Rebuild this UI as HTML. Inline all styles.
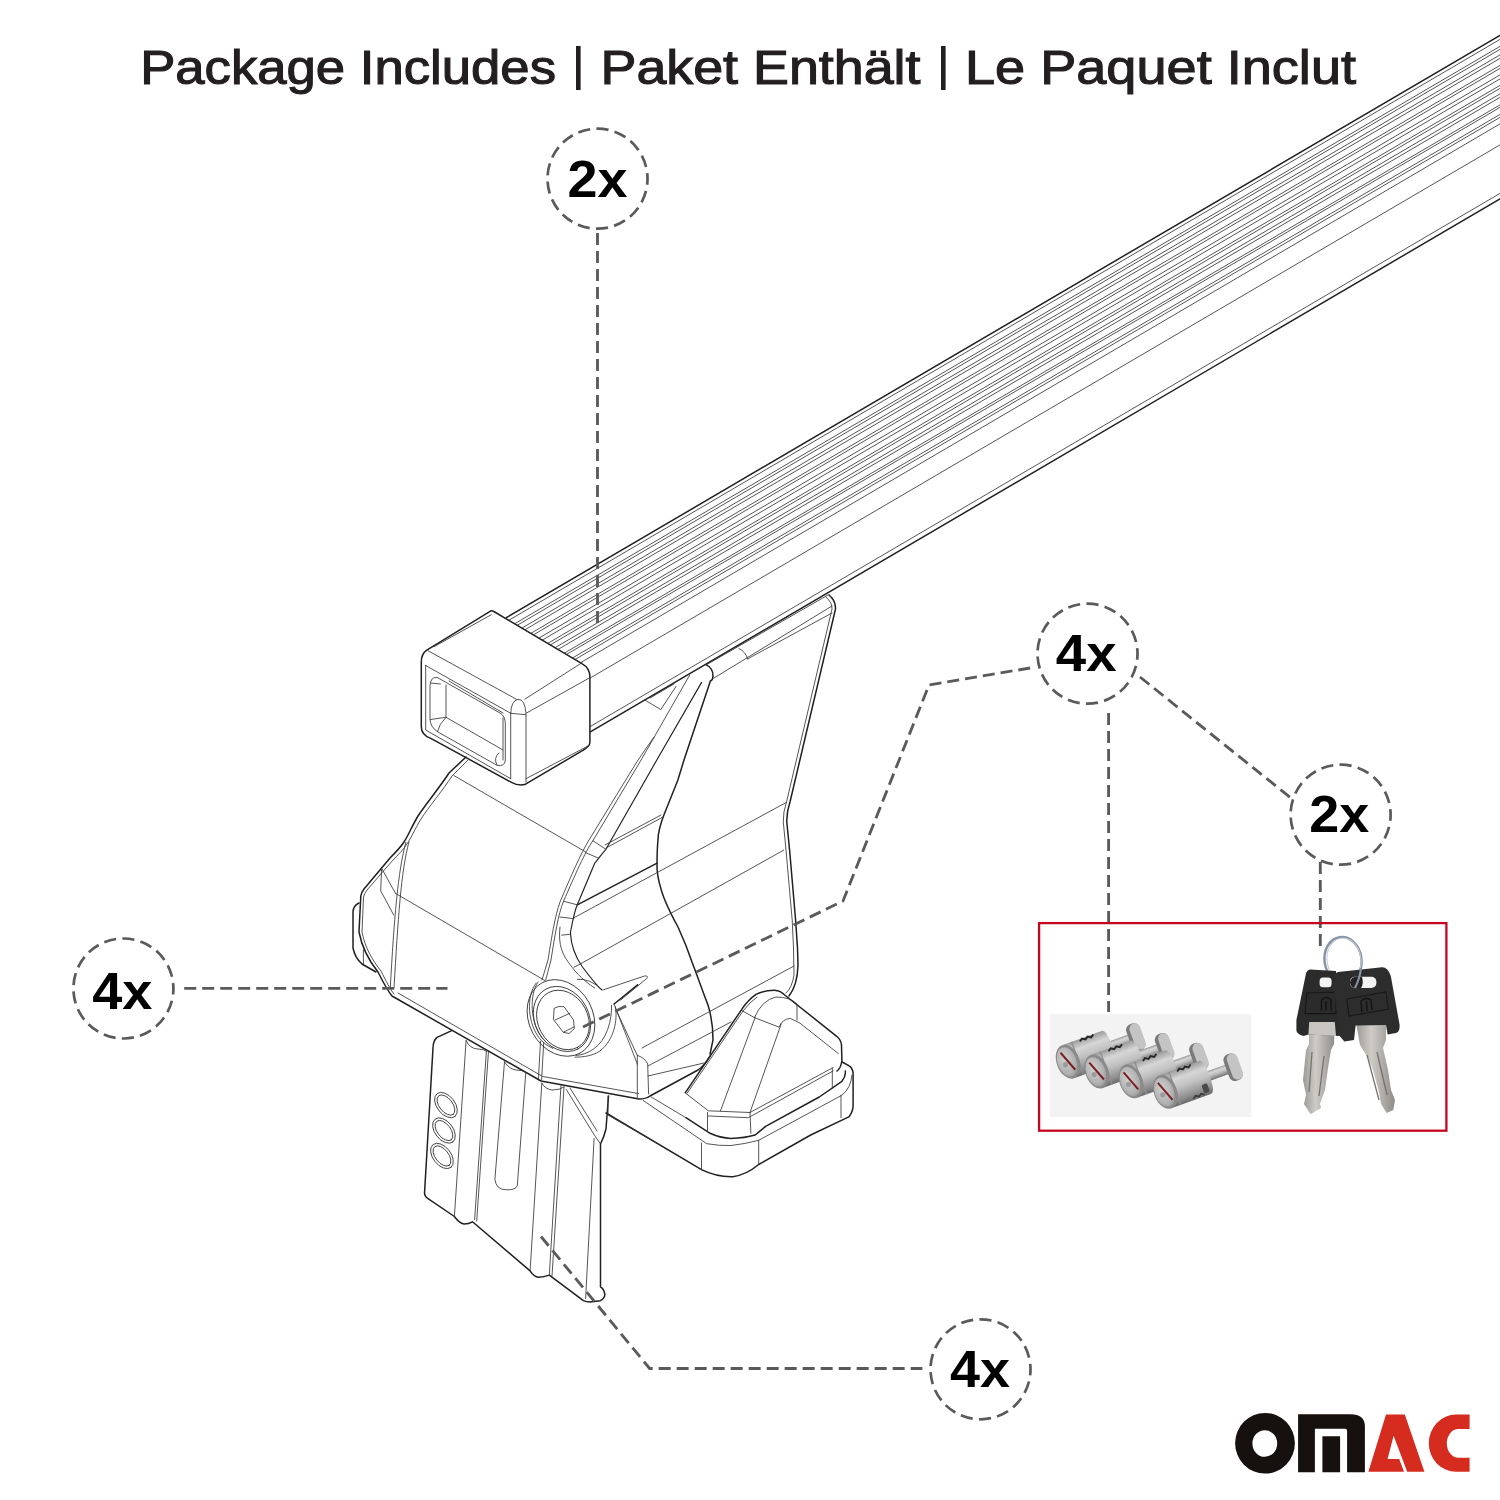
<!DOCTYPE html>
<html><head><meta charset="utf-8">
<style>
html,body{margin:0;padding:0;background:#fff;}
body{width:1500px;height:1500px;overflow:hidden;}
svg{display:block;}
.t{font-family:"Liberation Sans",sans-serif;fill:#231f20;stroke:#231f20;stroke-width:1.1;}
.b{font-family:"Liberation Sans",sans-serif;font-weight:bold;fill:#000;}
.dash{fill:none;stroke:#5a5a5a;stroke-width:2.85;stroke-dasharray:12 6;}
.circ{fill:none;stroke:#5a5a5a;stroke-width:2.7;stroke-dasharray:12.2 6.28;stroke-dashoffset:6.1;}
.k{fill:none;stroke:#202020;stroke-width:1.5;stroke-linejoin:round;stroke-linecap:round;}
.n{fill:none;stroke:#363636;stroke-width:0.85;stroke-linejoin:round;stroke-linecap:round;}
</style></head>
<body>
<svg width="1500" height="1500" viewBox="0 0 1500 1500">
<rect width="1500" height="1500" fill="#fff"/>
<!-- title -->
<g class="t" font-size="47.5">
<text x="140.2" y="84" textLength="415.8" lengthAdjust="spacingAndGlyphs">Package Includes</text>
<text x="600.5" y="84" textLength="320" lengthAdjust="spacingAndGlyphs">Paket Enthält</text>
<text x="965" y="84" textLength="391" lengthAdjust="spacingAndGlyphs">Le Paquet Inclut</text>
</g>
<rect x="576" y="46" width="4.6" height="44" fill="#231f20"/>
<rect x="941" y="46" width="4.6" height="44" fill="#231f20"/>

<!-- BAR -->
<g id="bar">
<path class="k" d="M506.3 617.7L1500 35.4 M589.9 732.2L1500 198.9"/>
<path class="n" d="M507.9 620.8L1500 39.4 M513.9 624.2L1500 46.4 M516.5 625.7L1500 49.4 M521.2 628.5L1500 54.9 M524.2 630.2L1500 58.4 M530.2 633.7L1500 65.4 M532.8 635.2L1500 68.4 M538.4 638.4L1500 74.9 M541.8 640.4L1500 78.9 M547.4 643.6L1500 85.4 M550.0 645.1L1500 88.4 M554.7 647.9L1500 93.9 M557.7 649.6L1500 97.4 M564.1 653.3L1500 104.9 M566.2 654.6L1500 107.4 M572.3 658.1L1500 114.4 M574.8 659.6L1500 117.4 M580.4 662.8L1500 123.9 M589.9 678.2L1500 144.9 M589.9 726.7L1500 193.4"/>
</g>

<!-- END CAP -->
<g id="cap">
<path class="k" fill="#fff" style="fill:#fff" d="M490.9 610.8 L426.4 650.4 Q421.3 654 421.3 662.1 L421.3 726.7 Q421.3 735 430.8 738.4 L511.5 782.4 Q518 786 524.7 784.6 L583.3 750.1 Q589.9 746 589.9 742.8 L589.9 676.8 Q589.9 668 581.9 663.6 L493.9 611.5 Q492 610.5 490.9 610.8Z"/>
</g>


<!-- FOOT -->
<g id="foot">
<!-- cap details -->
<path class="n" d="M428 650.7 L516.5 699.3 M425.3 665.3 L510.7 713.3 M510.7 713.3 Q511 701 518 699.3 Q525 699 526 713.3 M510.7 713.3 L526 714.7 M526 713.3 L589.3 678 M524.7 699.3 L582 662.7
M434 646.7 L491.3 614.7
M510.7 713.3 L510.7 778.7 M526 714.7 L526 782 M526 778.7 L589.3 745.3 M425.7 665.3 L425.7 730 L510.7 778.7"/>
<path class="n" d="M430 686 Q430 677 437 677.3 L500 713 Q505.3 716 505.3 724 L505.3 760 Q505 767 497 765.3 L438 732 Q430 727 430 719Z
M446 685 L446 717.3 L503 750 M446 717.3 Q439 724 437.5 731.5 M430.5 683 L440.5 684 M430.5 719.5 L446 717.3 M497 765 Q493 758 499 753
M449 681 L503 713 M503 718 L503 760"/>
<!-- body thick outlines -->
<path class="k" d="M466 757 L449 773 C440 787 425 805 418 816 C412 826 408 836 404 842 C400 848 395 853 390 858 L364 889 Q361 893 360.8 896 L359 932 C362 948 370 962 378 972 C383 982 387 990 392 996 L541 1081 L639 1099 Q646 1099 650 1096 L698 1070 Q705 1065 710 1056"/>
<path class="n" d="M468 760 L452 776 C443 790 428 808 421 819 C415 829 411 838 407 844 C403 850 398 855 393 860 L367 890 Q364 894 363.5 897 L362 932 C365 948 373 961 381 971 C386 981 390 989 394 994"/>
<path class="k" d="M359 903 Q353 906 353 912 L353 948 Q355 958 362 964 L376 972"/>
<path class="k" d="M706.4 664.8 Q713 668 713 676 Q713 680 710.4 681 L684 760 L677.9 780 C672 795 668 805 664 814.7 C660 825 658 832 657.9 840.7 C657 850 657 862 657.1 870 C658 880 661 890 664 898 C668 908 673 918 678 927 C684 940 688 950 692 962 C697 975 704 995 708 1005 C712 1018 713 1030 713 1040 L710 1054"/>
<path class="k" d="M829 595 Q836 601 835.5 609 L790 802 Q786.5 812 786.8 822 L789.6 850 L795.6 920 L797.5 948 L798 965 Q797.5 985 789 996"/>
<path class="k" style="stroke-width:1.15" d="M701.6 682.4 L656.8 760 L605.9 849.3 C600 856 596 862 594.7 863.2 L577.3 904.8 C574 912 572 925 570.4 932.5 C571 945 574 955 582.5 967 C590 977 596 985 601.6 989.7"/>
<path class="k" d="M577.3 904.8 L657.1 863.2 M637.6 984.8 L614.1 1004"/>
<path class="k" d="M685.2 1092.8 L741.6 1009.6 Q748 1000 756 994.4 Q764 990 776 990.4 Q781 991 784.7 995 L836.7 1036.3 Q841 1040 841.5 1045 L841.9 1060.5 Q841 1068 837 1071"/>
<path class="k" d="M606 1113 L701.5 1169.7 Q716 1177 732.7 1176.7 Q746 1175 758.7 1164.5 L810.7 1135 L848.8 1116.9 Q853 1112 853.1 1105.6 L853.1 1072.7 Q852 1067 848.8 1065.7 L842 1062"/>
<path class="k" d="M685.9 1117.7 L710.1 1133.3 Q720 1138 731 1138.5 Q745 1138 755.2 1135 Q760 1131 765.6 1126.4 L819.3 1097 L841.9 1081.3 Q846 1076 845.3 1071"/>
<path class="k" d="M451.2 1030.9 L437 1037.4 Q433 1041 433 1048 L424.6 1192 Q424 1196 427.7 1198.4 L454.4 1216.5 Q459 1223 464 1224 Q469 1224 472.5 1221.8 L530.1 1270.9 Q534 1277 538.6 1277.3 Q544 1277 549.3 1275.1 L583.4 1300.7 Q586 1302 590 1302 L600.5 1300.7 Q605 1298 604.8 1294.3 Q604 1289 600.5 1286.9 L600.5 1144 Q604 1137 606 1129 L608.5 1096"/>
<!-- body thin -->
<path class="n" d="M453.9 775.6 L585.6 851.9 M395.5 893.4 L544.8 980.5
M405.9 842.3 C398 870 394 920 390.3 987.9 M409 842 C401 870 398 920 394 988
M381.6 868.3 L395.5 893.4 M381.6 868.3 L380.7 890.8 L393.7 915 M363.4 949.7 L363.4 965.3
M689.6 675.2 L641.1 760 L592.9 840.7 C585 852 575 875 563.5 901.3 C558 915 555 935 551 960 L545.7 980.1
M654 737 L638 760 L589 840 C581 853 571 876 560 902 C555 916 552 935 548 960 L542 980
M592.9 840.7 L605.9 849.3 M586 852.8 L598.1 858 M563.5 901.3 L577.3 904.8 M560 917 L573.9 918.7 M561.7 935.1 L570.4 934.3
M560 927 C558 945 562 955 572.1 967.2 C580 978 590 985 594.7 988 M573.9 967.2 L580.8 963.7
M573.9 917.8 L786.2 802.5 M580.8 963.7 L783.6 850.2 M642 1048 L794 966
M606.8 847.6 L662.3 817.3 M605 845 L661 815
M706 665 L828 595 M714 678 L832 606 M747.6 658.9 L832 613 M739 648.5 Q746 652 747.6 658.9
M644.8 700 L660.8 709.6 L676 686.4 M650 698 L674 684
M826 597 Q832.5 603 832 609 L786.5 802 Q783 812 783.3 822 L786 850 L792.2 920 L793.5 948 L794 975 Q792 988 786 993
M577.3 979.3 Q590 978 602.4 990.1 L644.9 975.9 Q649 976 646.7 978.5 L620.7 1000
M540.5 1041.3 L538.4 1080 M543.7 1042.4 L541.6 1080
M398 993 L542.7 1076.5 L638.7 1093.6
M614.1 1004 L637.3 1064 L637.3 1098 M616.3 1010.4 L637.3 1055.3 Q645 1058 647.7 1064 L648.6 1094 M637.3 1055.3 L637.3 1064
M648 1066 L731 1022 M648 1076 L704 1063
M741.6 1010.4 L754.4 1017.6 L779.2 1027.2 Q782 1019 790.4 1018.4 L800 1023.2 L838.4 1053.6
M755.2 1017.2 L720.5 1110.8 M781.2 1024 L750 1112.5
M685.9 1093.5 L708.4 1110.8 L750 1112.5 L833.2 1067.5 M708.4 1116 L748.3 1117.7 L833 1071
M707.5 1112.5 L707.5 1131.6 M750 1112.5 L750.9 1133.3 M832.3 1068.3 L832.3 1088.3
M754.4 1017.6 Q762 1000 776 997 Q790 997 797 1004 L797 1020 M687 1093.5 L743 1011 Q750 1002 757 997
M643.2 1100.5 L706.7 1143.7 Q720 1146 731 1145.5 Q745 1144 758.7 1140.3 L841.9 1095.2 Q851 1088 852 1075
M701.5 1143 L701.5 1169.7 M758.7 1140.3 L758.7 1164.5 M841 1095.2 L841 1117.7
M651.2 1097 L685.9 1117.7 M608 1096 L608 1114 M660 1145 L608 1115
M466.1 1040.5 L454.4 1216.5 M486.4 1051.2 L474.6 1219.7 M488.5 1051.2 L476.7 1221
M504.5 1061.9 L494.9 1179.2 Q496 1190 506.6 1189.8 Q516 1190 517.3 1185.6 L525.8 1072.5
M541.8 1083.2 L530.1 1270.9 M561 1085.3 L549.3 1275.1 M564 1087 L552 1276
M466.1 1040.5 Q470 1049 478 1049 Q484 1049 486.4 1051.2 M504.5 1061.9 Q509 1069 516 1070 Q523 1070 525.8 1072.5 M541.8 1083.2 Q545 1089 552 1090 Q560 1090 564 1087 M594.1 1138.6 L585.6 1298.6 M566.4 1089.6 L594.1 1134.7 L600.5 1144 M570 1088 L597 1131
"/>
<g class="n">
<ellipse cx="446" cy="1105.1" rx="14.5" ry="9" transform="rotate(52 446 1105.1)"/>
<ellipse cx="444" cy="1130.6" rx="14.5" ry="9" transform="rotate(52 444 1130.6)"/>
<ellipse cx="442" cy="1156" rx="14.5" ry="9" transform="rotate(52 442 1156)"/>
<ellipse cx="446" cy="1105.1" rx="11.8" ry="6.6" transform="rotate(52 446 1105.1)"/>
<ellipse cx="444" cy="1130.6" rx="11.8" ry="6.6" transform="rotate(52 444 1130.6)"/>
<ellipse cx="442" cy="1156" rx="11.8" ry="6.6" transform="rotate(52 442 1156)"/>
<ellipse cx="561" cy="1018" rx="40" ry="32" transform="rotate(62 561 1018)"/>
<ellipse cx="562" cy="1019" rx="34" ry="27" transform="rotate(62 562 1019)"/>
<ellipse cx="563" cy="1020" rx="31" ry="25" transform="rotate(62 563 1020)"/>

<path d="M554.5 1008.1 L559 1006.5 L564 1006.7 L573.5 1019.9 L574.3 1028.7 L569 1033.5 L563.3 1032.3 L553.7 1019.9 Z M555.2 1019.9 L569.9 1013.3 M563.3 1032.3 L574 1027 M611.6 1005.2 C612 1020 607 1040 593.3 1049.2 C588 1053 582 1055 576 1055.5 M615.3 1006.7 C618 1020 614 1040 600 1051 C592 1056 584 1057 575 1057.2 M536.1 983.2 C526 995 527 1025 541.3 1040.4 C546 1045 550 1047 553 1048.4 M538 982 C529 995 530 1024 543 1039"/>
</g>
</g>

<!-- circles -->
<g>
<circle class="circ" cx="597.5" cy="178.7" r="50"/>
<circle class="circ" cx="1087.5" cy="653.7" r="50"/>
<circle class="circ" cx="1340.6" cy="814.7" r="50"/>
<circle class="circ" cx="123.4" cy="988.5" r="50"/>
<circle class="circ" cx="980.5" cy="1369.3" r="50"/>
</g>
<g class="b" font-size="51.5">
<text x="567.5" y="196.9" textLength="60" lengthAdjust="spacingAndGlyphs">2x</text>
<text x="1055.8" y="671.1" textLength="60.8" lengthAdjust="spacingAndGlyphs">4x</text>
<text x="1309.2" y="832.4" textLength="60" lengthAdjust="spacingAndGlyphs">2x</text>
<text x="92.2" y="1009" textLength="60.2" lengthAdjust="spacingAndGlyphs">4x</text>
<text x="950.1" y="1387" textLength="60" lengthAdjust="spacingAndGlyphs">4x</text>
</g>
<!-- leaders -->
<path class="dash" d="M597.5 233 L597.5 623"/>
<path class="dash" d="M583 1027 L843 901 L929 685 L1036 667"/>
<path class="dash" d="M1108.6 713 L1108.6 1012"/>
<path class="dash" d="M1140 677 L1291 798"/>
<path class="dash" d="M1320.3 862 L1320.3 952"/>
<path class="dash" d="M184.2 988.3 L447.5 988.3"/>
<path class="dash" d="M541 1236.5 L649.6 1368.5 L922.4 1368.5"/>

<!-- red box -->
<rect x="1039.1" y="923.1" width="407.3" height="207.6" fill="none" stroke="#c4061f" stroke-width="2.3"/>
<rect x="1049.9" y="1014.1" width="201.6" height="102.9" fill="#f3f3f3"/>
<!-- PHOTOS -->
<defs>
<linearGradient id="cylg" x1="0" y1="0" x2="0" y2="1">
<stop offset="0" stop-color="#9a9a9a"/><stop offset="0.25" stop-color="#d6d6d6"/><stop offset="0.5" stop-color="#c2c2c2"/><stop offset="0.85" stop-color="#8c8c8c"/><stop offset="1" stop-color="#6a6a6a"/>
</linearGradient>
<radialGradient id="faceg" cx="0.45" cy="0.4" r="0.7">
<stop offset="0" stop-color="#d2d2d2"/><stop offset="0.7" stop-color="#b0b0b0"/><stop offset="1" stop-color="#8a8a8a"/>
</radialGradient>
<linearGradient id="bladeg" x1="0" y1="0" x2="1" y2="0">
<stop offset="0" stop-color="#9c9894"/><stop offset="0.4" stop-color="#cfcbc6"/><stop offset="1" stop-color="#8f8b87"/>
</linearGradient>
<g id="cyl">
<path d="M38 -5 L70 -5 L70 5 L38 5Z" fill="url(#cylg)"/>
<rect x="65" y="-14" width="14" height="28" rx="6" fill="#7a7a7a"/>
<rect x="68.5" y="-13.5" width="11" height="27" rx="5.5" fill="#c4c4c4"/>
<path d="M0 -17.5 L42 -17.5 Q47 -17.5 47 0 Q47 17.5 42 17.5 L0 17.5Z" fill="url(#cylg)"/>
<path d="M10 -17.5 L10 17.5" stroke="#909090" stroke-width="1.4"/>
<path d="M18 -15 l3 -2 l3 2 l3 -2 l3 2 l3 -2" stroke="#262626" stroke-width="1.9" fill="none"/>
<path d="M24 16 l3 -2 l3 2 l3 -2 l3 2" stroke="#3a3a3a" stroke-width="1.6" fill="none"/>
<rect x="36" y="6" width="6" height="9" rx="2" fill="#4a4a4a"/>
<ellipse cx="0" cy="0" rx="11.5" ry="17.5" fill="#8a8a8a"/>
<ellipse cx="-1" cy="0" rx="9.6" ry="15.2" fill="url(#faceg)"/>
<path d="M-4 -11 L4 10" stroke="#7a1f22" stroke-width="2"/>
<circle cx="-3.5" cy="2" r="2.6" fill="#9c9c9c"/>
</g>
</defs>
<g id="locks">
<use href="#cyl" transform="translate(1068.1 1061.7) rotate(-20)"/>
<use href="#cyl" transform="translate(1096.8 1071.5) rotate(-20)"/>
<use href="#cyl" transform="translate(1131.1 1081.3) rotate(-20)"/>
<use href="#cyl" transform="translate(1165.4 1091.8) rotate(-20)"/>
</g>
<g id="keys">
<!-- ring -->
<ellipse cx="1343" cy="960" rx="18.5" ry="23" fill="none" stroke="#8593a3" stroke-width="2.4" transform="rotate(-8 1343 960)"/>
<ellipse cx="1344" cy="960" rx="17" ry="22" fill="none" stroke="#c3ccd6" stroke-width="1" transform="rotate(-8 1344 960)"/>
<!-- left blade -->
<path d="M1309.2 1021 L1334.8 1021 L1334 1044 L1331 1050 L1328 1068 L1325 1090 L1320 1103.7 L1321 1108 L1310.7 1114.3 L1304 1104 L1306 1095 L1303 1080 L1306 1050 L1309 1044Z" fill="url(#bladeg)"/>
<path d="M1312 1052 L1309 1092 M1324 1056 L1319 1096" stroke="#77726e" stroke-width="1.3"/>
<!-- left head -->
<path d="M1310 969.6 L1336 971 L1340 1036 L1308.4 1034.4 L1303.6 1036 Q1296.4 1034 1296.4 1030 L1296.4 1020 L1306 973.6 Q1307 970 1310 969.6Z" fill="#2b2b2b"/>
<path d="M1308.4 1034.4 L1309.2 1022 L1334.8 1022 L1336 1036Z" fill="#c9c5c1"/>
<rect x="1319.6" y="977.6" width="12" height="9.6" rx="3.5" fill="#f2f2f2"/>
<path d="M1306.8 993 L1336 992 L1336 1013.6 L1305 1013.6Z" fill="none" stroke="#161616" stroke-width="1.1"/>
<path d="M1321.5 1011 L1321.5 1000 Q1326 995 1331 1000 L1331 1011 M1326 1001 L1326 1011" fill="none" stroke="#141414" stroke-width="1.5"/>
<!-- right blade -->
<path d="M1355.6 1021 L1386 1021 L1386 1040 L1383 1048 L1388 1070 L1391 1090 L1395 1100 L1393.3 1110 L1386.7 1113 L1381 1104 L1379 1092 L1373 1070 L1368 1058 L1360 1045Z" fill="url(#bladeg)"/>
<path d="M1367 1055 L1379 1100 M1377 1052 L1387 1095" stroke="#77726e" stroke-width="1.3"/>
<!-- right head -->
<path d="M1338 972 L1382 967.2 Q1388 967 1390.8 976 L1399.6 1024.8 Q1400 1032 1396 1033 L1387.6 1034.4 L1386 1025 L1355.6 1025.6 L1354 1040 L1344.4 1041.6 L1339.6 1036 L1333.2 980 Q1333 974 1338 972Z" fill="#2d2d2d"/>
<rect x="1350" y="976.8" width="26.4" height="11.2" rx="5" fill="#f2f2f2"/>
<path d="M1350 982 Q1351 976.8 1357 976.8 L1362 977 Q1364 984 1361 988 L1355 988 Q1350 987 1350 982Z" fill="#232323"/>
<path d="M1346.8 999 L1386 992 L1388.4 1009 L1349 1016Z" fill="none" stroke="#181818" stroke-width="1.1"/>
<path d="M1362 1012 L1361 1001 Q1366 996 1371 1000 L1372 1010 M1366.5 1001 L1367 1011" fill="none" stroke="#141414" stroke-width="1.5"/>
<!-- ring over head -->
<path d="M1355 988 Q1360 978 1361 968" fill="none" stroke="#8593a3" stroke-width="2.2"/>
</g>


<!-- logo -->
<g id="logo">
<path fill="#16110e" fill-rule="evenodd" d="M1265 1412.9 A29.9 30.35 0 1 1 1265 1473.6 A29.9 30.35 0 1 1 1265 1412.9Z M1264.8 1430.2 A12.4 13.3 0 1 0 1264.8 1456.8 A12.4 13.3 0 1 0 1264.8 1430.2Z"/>
<path fill="#16110e" fill-rule="evenodd" d="M1298.1 1414.3 H1350.4 Q1364.9 1414.3 1364.9 1426.5 V1472.2 H1347.1 V1431 Q1347.1 1428.8 1345 1428.8 H1314.9 V1472.2 H1298.1Z M1322.4 1436.3 H1340.1 V1472.2 H1322.4Z"/>
<path fill="#d62b1f" d="M1386 1414.6 H1404.8 L1424.4 1471.8 H1407.2 L1393.6 1435.8 L1387.6 1459 H1399.2 L1404 1471.8 H1368.4Z"/>
<path fill="#d62b1f" d="M1469.6 1414.6 H1456 A27.2 28.6 0 0 0 1456 1471.8 H1469.6 V1457.8 H1458.4 A11.6 14.4 0 0 1 1458.4 1429 H1469.6 Z"/>
</g>
</svg>
</body></html>
